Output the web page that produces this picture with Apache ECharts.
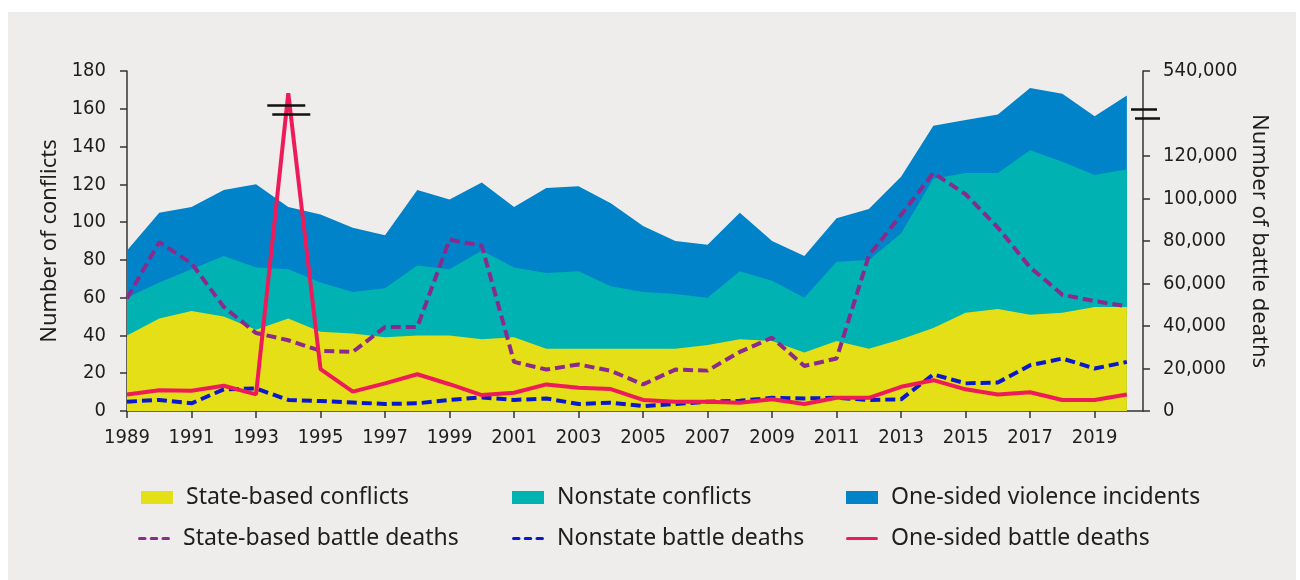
<!DOCTYPE html>
<html>
<head>
<meta charset="utf-8">
<script src="https://cdn.jsdelivr.net/npm/echarts@6/dist/echarts.min.js"></script>
<style>
  html, body { margin: 0; padding: 0; background: #fff; }
  #chart { width: 1300px; height: 580px; }
</style>
</head>
<body>
<div id="chart"></div>
<script>
// years 1989 - 2020
const years = [1989, 1990, 1991, 1992, 1993, 1994, 1995, 1996, 1997, 1998, 1999, 2000, 2001, 2002, 2003, 2004,
  2005, 2006, 2007, 2008, 2009, 2010, 2011, 2012, 2013, 2014, 2015, 2016, 2017, 2018, 2019, 2020]

// number of conflicts (left axis, stacked)
const stateConflicts = [40, 49, 53, 50, 43, 49, 42, 41, 39, 40, 40, 38, 39, 33, 33, 33,
  33, 33, 35, 38, 37, 31, 37, 33, 38, 44, 52, 54, 51, 52, 55, 55]
const nonstateConflicts = [20, 19, 22, 32, 33, 26, 26, 22, 26, 37, 35, 47, 37, 40, 41, 33,
  30, 29, 25, 36, 32, 29, 42, 47, 56, 79, 74, 72, 87, 80, 70, 73]
const oneSidedIncidents = [25, 37, 33, 35, 44, 33, 36, 34, 28, 40, 37, 36, 32, 45, 45, 44,
  35, 28, 28, 31, 21, 22, 23, 27, 30, 28, 28, 31, 33, 36, 31, 39]

// battle deaths (right axis)
const stateDeaths = [53000, 79500, 69500, 49000, 36700, 33300, 28300, 27800, 39500, 39500, 80600, 77800, 23100, 19500, 21900, 18900,
  12500, 19500, 19000, 27800, 34500, 21200, 24700, 73100, 92300, 112000, 102000, 86300, 67600, 54700, 51700, 49300]
const nonstateDeaths = [4400, 5200, 3600, 10200, 10600, 5200, 4700, 4000, 3300, 3600, 5200, 6400, 5200, 5900, 3300, 3900,
  2300, 3300, 4400, 4800, 6200, 5900, 6200, 5200, 5500, 17200, 13000, 13400, 21500, 24700, 20000, 23100]
const oneSidedDeaths = [7800, 9800, 9500, 11900, 7800, 330000, 19700, 9100, 13000, 17300, 12600, 7500, 8600, 12500, 10900, 10300,
  5200, 4400, 4400, 3900, 5500, 3300, 6200, 6200, 11400, 14500, 10200, 7800, 8800, 5200, 5200, 7800]

const deathTicks = [0, 20000, 40000, 60000, 80000, 100000, 120000, 160000]

// right axis is broken above 140,000 (top of the axis stands for 540,000)
const BREAK = 140000
const brk = v => (v > BREAK ? BREAK + (v - BREAK) / 20 : v)
const unbrk = v => (v > BREAK ? BREAK + (v - BREAK) * 20 : v)

const pairs = (arr, f) => arr.map((v, i) => [years[i], f ? f(v) : v])

// stacked tops, drawn back to front as opaque areas
const stateTop = stateConflicts
const nonstateTop = stateConflicts.map((v, i) => v + nonstateConflicts[i])
const oneSidedTop = nonstateTop.map((v, i) => v + oneSidedIncidents[i])

const BG = '#eeedeb'
const TXT = '#1e1e1e'
const labelFont = "'Liberation Sans Narrow', 'DejaVu Sans Condensed', sans-serif"
const textFont = "'Noto Sans', sans-serif"

const DASH_ICON = 'path://M1.5,0h5a1.5,1.5 0 0 1 0,3h-5a1.5,1.5 0 0 1 0,-3z M12.5,0h5a1.5,1.5 0 0 1 0,3h-5a1.5,1.5 0 0 1 0,-3z M23.5,0h5a1.5,1.5 0 0 1 0,3h-5a1.5,1.5 0 0 1 0,-3z'
const LINE_ICON = 'path://M1.5,0h27a1.5,1.5 0 0 1 0,3h-27a1.5,1.5 0 0 1 0,-3z'

const areaSeries = (name, data, color, z) => ({
  name,
  type: 'line',
  data: pairs(data),
  showSymbol: false,
  symbol: 'none',
  lineStyle: { width: 0, color },
  areaStyle: { color, opacity: 1 },
  itemStyle: { color },
  z
})

const deathSeries = (name, data, color, dashed) => ({
  name,
  type: 'line',
  yAxisIndex: 1,
  data: pairs(data, brk),
  showSymbol: false,
  symbol: 'none',
  lineStyle: { color, width: 4, type: dashed ? [10, 5] : 'solid', cap: 'butt' },
  itemStyle: { color },
  z: 5
})

const legendItem = (name, left, top, icon, h) => ({
  data: [{ name, icon }],
  left,
  top,
  itemWidth: 32,
  itemHeight: h,
  itemGap: 0,
  textStyle: { fontFamily: textFont, fontSize: 23, color: TXT, padding: [0, 0, 0, 8] },
  selectedMode: false
})

const options = {
  backgroundColor: '#fff',
  animation: false,
  grid: { left: 127, right: 157, top: 71, bottom: 169 },
  legend: [
    legendItem('State-based conflicts', 136, 481, 'rect', 13),
    legendItem('Nonstate conflicts', 507, 481, 'rect', 13),
    legendItem('One-sided violence incidents', 841, 481, 'rect', 13),
    legendItem('State-based battle deaths', 133, 522, DASH_ICON, 4),
    legendItem('Nonstate battle deaths', 507, 522, DASH_ICON, 4),
    legendItem('One-sided battle deaths', 841, 522, LINE_ICON, 4)
  ],
  xAxis: {
    type: 'value',
    min: 1989,
    max: 2020.5,
    interval: 2,
    splitLine: { show: false },
    axisLine: { lineStyle: { color: '#333', width: 1.5 } },
    axisTick: { length: 7, lineStyle: { color: '#333', width: 1.5 } },
    axisLabel: {
      color: TXT,
      fontFamily: labelFont,
      fontSize: 20,
      margin: 17,
      showMaxLabel: false,
      formatter: v => (Number.isInteger(v) && v % 2 === 1 ? String(v) : '')
    }
  },
  yAxis: [
    {
      type: 'value',
      min: 0,
      max: 180,
      interval: 20,
      name: 'Number of conflicts',
      nameLocation: 'middle',
      nameGap: 64,
      nameTextStyle: { fontFamily: textFont, fontSize: 22, color: TXT },
      splitLine: { show: false },
      axisLine: { show: true, lineStyle: { color: '#333', width: 1.5 } },
      axisTick: { show: true, length: 7, lineStyle: { color: '#333', width: 1.5 } },
      axisLabel: { color: TXT, fontFamily: labelFont, fontSize: 20, margin: 21 }
    },
    {
      type: 'value',
      min: 0,
      max: 160000,
      interval: 20000,
      position: 'right',
      name: 'Number of battle deaths',
      nameLocation: 'middle',
      nameRotate: -90,
      nameGap: 99,
      nameTextStyle: { fontFamily: textFont, fontSize: 22, color: TXT },
      splitLine: { show: false },
      axisLine: { show: true, lineStyle: { color: '#333', width: 1.5 } },
      axisTick: { show: true, length: 7, customValues: deathTicks, lineStyle: { color: '#333', width: 1.5 } },
      axisLabel: {
        color: TXT,
        fontFamily: labelFont,
        fontSize: 20,
        margin: 20,
        customValues: deathTicks,
        formatter: v => unbrk(v).toLocaleString('en-US')
      }
    }
  ],
  series: [
    areaSeries('One-sided violence incidents', oneSidedTop, '#0083c9', 1),
    areaSeries('Nonstate conflicts', nonstateTop, '#00b2b1', 2),
    areaSeries('State-based conflicts', stateTop, '#e5df18', 3),
    deathSeries('State-based battle deaths', stateDeaths, '#8b2a8d', true),
    deathSeries('Nonstate battle deaths', nonstateDeaths, '#0a19cc', true),
    deathSeries('One-sided battle deaths', oneSidedDeaths, '#ee1b5b', false)
  ]
}

const chart = echarts.init(document.getElementById('chart'), null, { renderer: 'canvas' })
chart.setOption(options)

// panel background and axis-break marks
const spike = chart.convertToPixel({ seriesIndex: 5 }, [1994, BREAK])
const edge = chart.convertToPixel({ seriesIndex: 5 }, [2020.5, BREAK])
const bar = (x1, x2, y) => ({
  type: 'line',
  silent: true,
  z: 10,
  shape: { x1, y1: y, x2, y2: y },
  style: { stroke: '#111', lineWidth: 2.5 }
})
chart.setOption({
  graphic: [
    { type: 'rect', silent: true, z: -10, shape: { x: 8, y: 12, width: 1288, height: 568 }, style: { fill: BG } },
    bar(spike[0] - 21, spike[0] + 17, spike[1] - 8),
    bar(spike[0] - 16, spike[0] + 22, spike[1] + 1),
    bar(edge[0] - 12, edge[0] + 14, edge[1] - 4),
    bar(edge[0] - 8, edge[0] + 17, edge[1] + 5)
  ]
})
</script>
</body>
</html>
